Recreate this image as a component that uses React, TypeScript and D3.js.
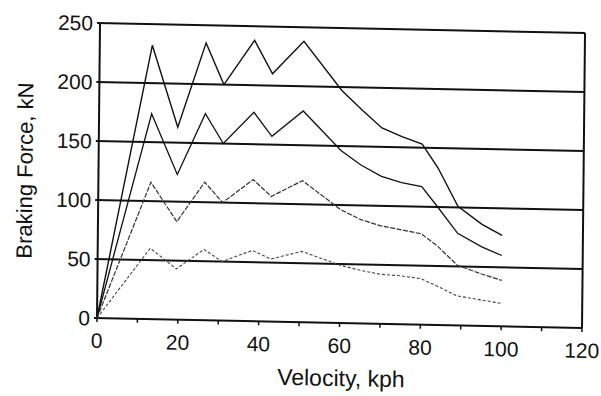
import * as d3 from 'd3';

// velocity (kph) of each read-off point, shared by all four curves
const velocity = [0, 13, 19.5, 26.3, 30.8, 38.3, 42.8, 50.5, 60, 65, 70, 75, 80, 84, 89, 95, 100];

// braking force (kN) per curve, top to bottom
const forceA = [0, 232, 163, 235, 200, 238, 210, 238, 197, 181, 166, 159, 153, 133, 101, 86, 77];
const forceB = [0, 174, 123, 175, 150, 177, 157, 179, 146, 134, 125, 120, 117, 100, 78, 67, 60];
const forceC = [0, 116, 83, 117, 100, 120, 106, 120, 96, 88, 83, 80, 77, 67, 51, 44, 39];
const forceD = [0, 60, 43, 60, 50, 60, 53, 60, 49, 45, 42, 41, 39, 33, 25, 22, 19.5];

const xTicks = [0, 20, 40, 60, 80, 100, 120];
const xMinorTicks = [10, 30, 50, 70, 90, 110];
const yTicks = [0, 50, 100, 150, 200, 250];
const gridValues = [50, 100, 150, 200];

const W = 601;
const H = 396;
const left = 97;
const right = 582;
const top = 23;
const bottom = 318;

// the scan is slightly skewed; apply the same skew to the drawing
const skew = `translate(${left},${bottom}) matrix(1,0.0206,-0.0102,1,0,0) translate(${-left},${-bottom})`;

export default function App() {
    const x = d3.scaleLinear().domain([0, 120]).range([left, right]);
    const y = d3.scaleLinear().domain([0, 250]).range([bottom, top]);

    const line = d3.line<number>()
        .x((_, i) => x(velocity[i]))
        .y((d) => y(d));

    const series = [
        { values: forceA, color: '#111', width: 1.4, dash: 'none' },
        { values: forceB, color: '#111', width: 1.3, dash: 'none' },
        { values: forceC, color: '#333', width: 1.2, dash: '5,1.5' },
        { values: forceD, color: '#444', width: 1.1, dash: '3,2' },
    ];

    const font = 'Liberation Sans, Arial, sans-serif';

    return (
        <svg width={W} height={H} style={{ position: 'absolute', left: 0, top: 0, background: '#fff' }}>
            <g transform={skew}>
                {gridValues.map((v) => (
                    <line key={v} x1={left - 3} x2={right} y1={y(v)} y2={y(v)} stroke="#111" strokeWidth={2} />
                ))}
                {/* frame */}
                <line x1={left - 3} x2={right} y1={y(250)} y2={y(250)} stroke="#111" strokeWidth={2} />
                <line x1={left - 3} x2={right} y1={y(0)} y2={y(0)} stroke="#111" strokeWidth={2} />
                <line x1={left} x2={left} y1={y(250)} y2={y(0)} stroke="#111" strokeWidth={2} />
                <line x1={right} x2={right} y1={y(250)} y2={y(0)} stroke="#111" strokeWidth={2} />
                {[...xTicks, ...xMinorTicks].map((t) => (
                    <line key={'t' + t} x1={x(t)} x2={x(t)} y1={y(0)} y2={y(0) + 4} stroke="#111" strokeWidth={1.5} />
                ))}

                {series.map((s, i) => (
                    <path key={i} d={line(s.values) ?? ''} fill="none" stroke={s.color}
                        strokeWidth={s.width} strokeDasharray={s.dash} strokeLinejoin="miter" />
                ))}

                {yTicks.map((t) => (
                    <text key={'y' + t} x={left - 7} y={y(t)} dy="0.36em" textAnchor="end"
                        fontFamily={font} fontSize={21} fill="#111">{t}</text>
                ))}
                {xTicks.map((t) => (
                    <text key={'x' + t} x={x(t)} y={348} textAnchor="middle"
                        fontFamily={font} fontSize={21} fill="#111">{t}</text>
                ))}
                <text x={(left + right) / 2 + 2} y={381} textAnchor="middle" fontFamily={font} fontSize={23} fill="#111">
                    Velocity, kph
                </text>
                <text transform={`translate(31,172) rotate(-90)`} textAnchor="middle"
                    fontFamily={font} fontSize={22} fill="#111">
                    Braking Force, kN
                </text>
            </g>
        </svg>
    );
}
